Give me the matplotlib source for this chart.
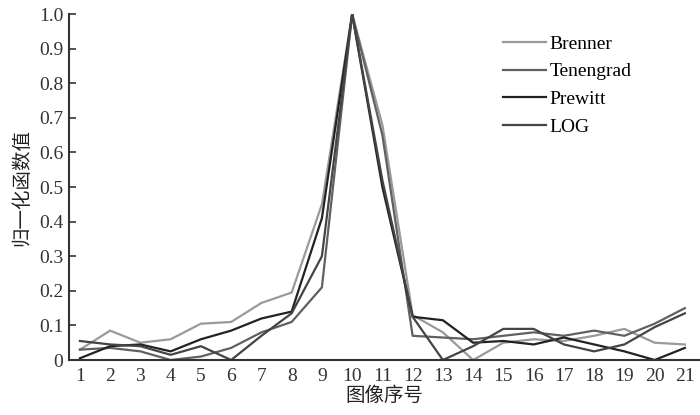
import matplotlib
matplotlib.use('Agg')
import matplotlib.pyplot as plt

plt.rcParams['font.family'] = ['Liberation Serif', 'Noto Sans CJK SC']

x = list(range(1, 22))
brenner = [0.03, 0.085, 0.05, 0.06, 0.105, 0.11, 0.165, 0.195, 0.45, 1.0, 0.68,
           0.13, 0.08, 0.0, 0.05, 0.06, 0.055, 0.07, 0.09, 0.05, 0.045]
tenengrad = [0.03, 0.035, 0.025, 0.0, 0.01, 0.035, 0.08, 0.11, 0.21, 1.0, 0.65,
             0.07, 0.065, 0.06, 0.07, 0.08, 0.07, 0.085, 0.07, 0.105, 0.15]
prewitt = [0.005, 0.04, 0.045, 0.025, 0.06, 0.085, 0.12, 0.14, 0.41, 1.0, 0.5,
           0.125, 0.115, 0.05, 0.055, 0.045, 0.065, 0.045, 0.025, 0.0, 0.035]
log = [0.055, 0.045, 0.04, 0.015, 0.04, 0.0, 0.07, 0.135, 0.3, 1.0, 0.52,
       0.125, 0.0, 0.04, 0.09, 0.09, 0.045, 0.025, 0.045, 0.095, 0.135]

labels = ['Brenner', 'Tenengrad', 'Prewitt', 'LOG']
colors = ['#9a9a9a', '#606060', '#222222', '#444444']
yticks = [0, 0.1, 0.2, 0.3, 0.4, 0.5, 0.6, 0.7, 0.8, 0.9, 1.0]
ytick_labels = ['0', '0.1', '0.2', '0.3', '0.4', '0.5', '0.6', '0.7', '0.8', '0.9', '1.0']

fig = plt.figure(figsize=(7, 4.15), dpi=100)
ax1 = fig.add_axes([0.0986, 0.1325, 0.9014, 0.8335])

for s, lab, c in zip([brenner, tenengrad, prewitt, log], labels, colors):
    ax1.plot(x, s, color=c, lw=1.6, label=lab)

ax1.set_xlim(0.64, 21.5)
ax1.set_ylim(0, 1.0)
ax1.set_xticks(x)
ax1.set_yticks(yticks)
ax1.set_yticklabels(ytick_labels)
ax1.tick_params(axis='x', length=0, labelsize=14, pad=6, colors='#333333')
ax1.tick_params(axis='y', direction='in', length=5, width=1.2, labelsize=14,
                pad=4, colors='#333333')
for side in ['top', 'right']:
    ax1.spines[side].set_visible(False)
for side in ['left', 'bottom']:
    ax1.spines[side].set_color('#333333')
    ax1.spines[side].set_linewidth(1.5)

ax1.set_ylabel('归一化函数值', fontsize=14, color='#222222', labelpad=6)
ax1.set_xlabel('图像序号', fontsize=14, color='#222222', labelpad=1)

ax1.legend(loc='upper left', bbox_to_anchor=(0.66, 0.99), frameon=False,
           fontsize=14, handlelength=2.2, handletextpad=0.2, labelspacing=0.52)

plt.savefig('out.png', dpi=100)
